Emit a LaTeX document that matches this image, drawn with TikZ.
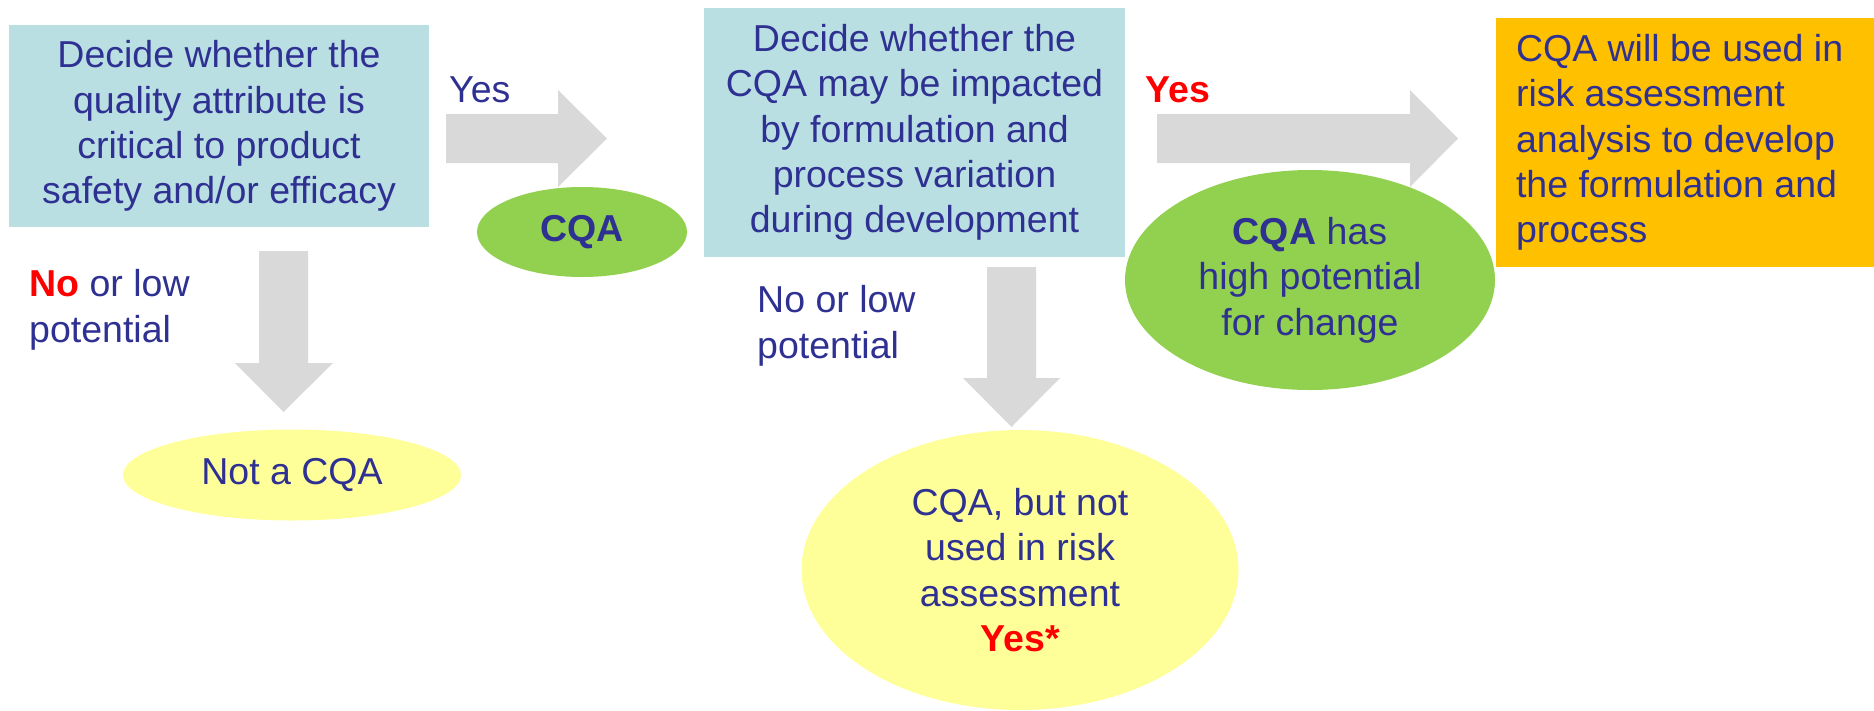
\documentclass[tikz,border=0pt]{standalone}
\usepackage{fontspec}
\setmainfont{Liberation Sans}
\usetikzlibrary{shapes.geometric}
\definecolor{txtblue}{RGB}{46,48,146}
\definecolor{boxblue}{RGB}{185,223,226}
\definecolor{leafgreen}{RGB}{146,208,80}
\definecolor{paleyellow}{RGB}{255,255,153}
\definecolor{amber}{RGB}{255,192,0}
\definecolor{arrowgray}{RGB}{217,217,217}
\definecolor{alertred}{RGB}{255,0,0}
\begin{document}
\begin{tikzpicture}[x=1pt, y=-1pt,
    every node/.style={text=txtblue, inner sep=0pt, font=\fontsize{37.5}{45.3}\selectfont},
    decision/.style={rectangle, fill=boxblue, align=center},
    outcome/.style={ellipse, fill=paleyellow, align=center},
    keep/.style={ellipse, fill=leafgreen, align=center},
    bigarrow/.style={fill=arrowgray}]
    \useasboundingbox (0,0) rectangle (1874,710);
    % block arrows
    \fill [bigarrow] (446,114) -- (558,114) -- (558,90) -- (607,138.5) -- (558,187) -- (558,163) -- (446,163) -- cycle;
    \fill [bigarrow] (1157,114) -- (1410,114) -- (1410,90) -- (1458,138.5) -- (1410,187) -- (1410,163) -- (1157,163) -- cycle;
    \fill [bigarrow] (259,251) -- (259,363) -- (235,363) -- (283.5,412) -- (333,363) -- (308,363) -- (308,251) -- cycle;
    \fill [bigarrow] (987,267) -- (987,378) -- (963,378) -- (1011.5,427) -- (1060,378) -- (1036,378) -- (1036,267) -- cycle;
    % questions
    \node [decision, minimum width=420pt, minimum height=202pt] (critical) at (219,126)
        {Decide whether the\\quality attribute is\\critical to product\\safety and/or efficacy};
    \node [decision, minimum width=421pt, minimum height=249pt] (impact) at (914.5,132.5)
        {Decide whether the\\CQA may be impacted\\by formulation and\\process variation\\during development};
    \node [rectangle, fill=amber, text width=338pt, inner xsep=20pt, align=flush left, minimum height=249pt] (risk) at (1685,142.5)
        {CQA will be used in\\risk assessment\\analysis to develop\\the formulation and\\process};
    % answers
    \node [keep, minimum width=210pt, minimum height=90pt] (cqa) at (582,232) {\textbf{CQA}};
    \node [outcome, minimum width=338pt, minimum height=91pt] (notcqa) at (292,475) {Not a CQA};
    \node [keep, minimum width=370pt, minimum height=220pt] (high) at (1310,280)
        {\textbf{CQA} has\\high potential\\for change};
    \node [outcome, minimum width=437pt, minimum height=280pt] (low) at (1020,570)
        {CQA, but not\\used in risk\\assessment\\\textcolor{alertred}{\textbf{Yes*}}};
    % branch labels
    \node [anchor=base west] (yes1) at (449,102) {Yes};
    \node [anchor=base west, text=alertred] (yes2) at (1145,102) {\textbf{Yes}};
    \node [anchor=base west, align=left] (no1) at (29,342) {\textcolor{alertred}{\textbf{No}} or low\\potential};
    \node [anchor=base west, align=left] (no2) at (757,358) {No or low\\potential};
\end{tikzpicture}
\end{document}
